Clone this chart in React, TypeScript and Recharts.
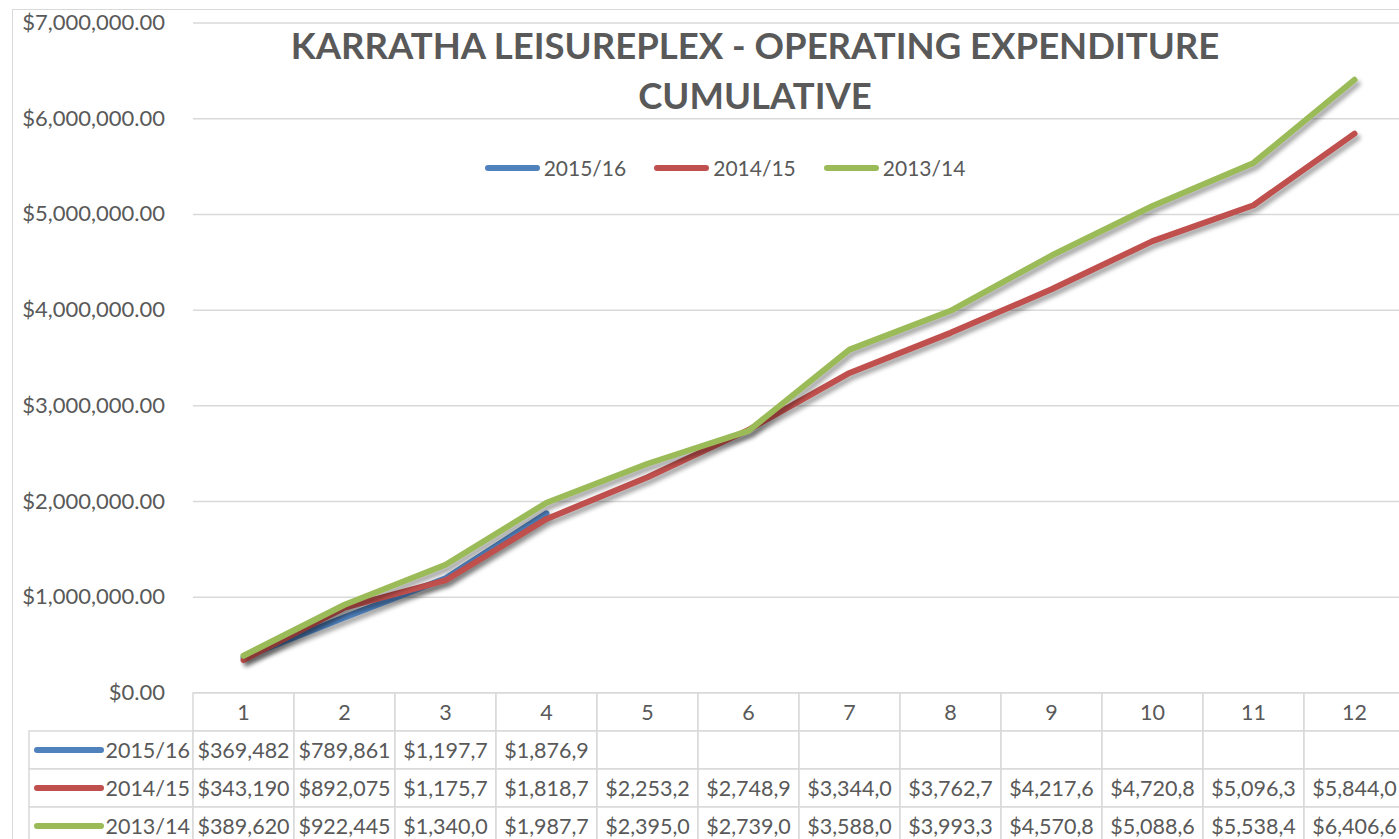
import { LineChart, Line, XAxis, YAxis, CartesianGrid } from "recharts";

const months = ["1", "2", "3", "4", "5", "6", "7", "8", "9", "10", "11", "12"];
const fy1516 = [369482, 789861, 1197700, 1876900];
const fy1415 = [343190, 892075, 1175700, 1818700, 2253200, 2748900, 3344000, 3762700, 4217600, 4720800, 5096300, 5844000];
const fy1314 = [389620, 922445, 1340000, 1987700, 2395000, 2739000, 3588000, 3993300, 4570800, 5088600, 5538400, 6406600];
const yTicks = [0, 1000000, 2000000, 3000000, 4000000, 5000000, 6000000, 7000000];

const series = [
  { key: "fy1516", name: "2015/16", color: "#4f81bd", values: fy1516 },
  { key: "fy1415", name: "2014/15", color: "#c0504d", values: fy1415 },
  { key: "fy1314", name: "2013/14", color: "#9bbb59", values: fy1314 },
];

const data = months.map((m, i) => {
  const row: Record<string, any> = { month: m };
  series.forEach((s) => {
    row[s.key] = s.values[i] ?? null;
  });
  return row;
});

const FONT = "Lato, 'Open Sans', sans-serif";
const TEXT = "#595959";
const GRID = "#d9d9d9";
const W = 1420;
const H = 860;
const LEFT = 193;
const PLOT_W = 1212;
const CELL_W = PLOT_W / 12;
const ROW_H = 38;
const LEG_W = 164;

// data table cells show the value cut to 8 characters, like the source
const cut = (v: number) => ("$" + v.toLocaleString("en-US")).slice(0, 8);
const money = (v: number) =>
  "$" + v.toLocaleString("en-US", { minimumFractionDigits: 2, maximumFractionDigits: 2 });

function TableTick(props: any) {
  const { x, y, payload, index } = props;
  const left = x - CELL_W / 2;
  return (
    <g>
      {index === 0 &&
        series.map((s, r) => {
          const top = y + ROW_H * (r + 1);
          const lx = left - LEG_W;
          return (
            <g key={s.key}>
              <rect x={lx} y={top} width={LEG_W} height={ROW_H} fill="#fff" stroke={GRID} strokeWidth={1.5} />
              <line x1={lx + 8} x2={lx + 72} y1={top + 19} y2={top + 19} stroke={s.color} strokeWidth={6} strokeLinecap="round" />
              <text x={left - 3} y={top + 27} textAnchor="end" fontSize={21.5} fill={TEXT} fontFamily={FONT}>
                {s.name}
              </text>
            </g>
          );
        })}
      <rect x={left} y={y} width={CELL_W} height={ROW_H} fill="#fff" stroke={GRID} strokeWidth={1.5} />
      <text x={x} y={y + 27} textAnchor="middle" fontSize={21.5} fill={TEXT} fontFamily={FONT}>
        {payload.value}
      </text>
      {series.map((s, r) => {
        const v = s.values[index];
        const top = y + ROW_H * (r + 1);
        return (
          <g key={s.key}>
            <rect x={left} y={top} width={CELL_W} height={ROW_H} fill="#fff" stroke={GRID} strokeWidth={1.5} />
            {v !== undefined && (
              <text x={x} y={top + 27} textAnchor="middle" fontSize={21.5} fill={TEXT} fontFamily={FONT}>
                {cut(v)}
              </text>
            )}
          </g>
        );
      })}
    </g>
  );
}

function YTick(props: any) {
  const { y, payload } = props;
  return (
    <text x={165} y={y + 7} textAnchor="end" fontSize={22} fill={TEXT} fontFamily={FONT}>
      {money(payload.value)}
    </text>
  );
}

function TopLegend() {
  return (
    <div style={{ display: "flex", justifyContent: "center", gap: 28, fontFamily: FONT, fontSize: 21, color: TEXT }}>
      {series.map((s) => (
        <div key={s.key} style={{ display: "flex", alignItems: "center", gap: 4 }}>
          <span style={{ display: "inline-block", width: 55, height: 6, borderRadius: 3, background: s.color }} />
          <span>{s.name}</span>
        </div>
      ))}
    </div>
  );
}

export default function App() {
  return (
    <div style={{ position: "absolute", left: 0, top: 0, width: 1399, height: 839, overflow: "hidden", background: "#fff" }}>
      <style>{`.shadowLine path { filter: drop-shadow(3px 4px 2px rgba(0,0,0,0.35)); }`}</style>
      <div style={{ position: "absolute", left: 12, top: 9, width: 1400, height: 840, borderLeft: `1.5px solid ${GRID}`, borderTop: `1.5px solid ${GRID}` }} />
      <div style={{ position: "absolute", left: 0, top: 0 }}>
        <LineChart width={W} height={H} data={data} margin={{ top: 23, right: W - LEFT - PLOT_W, left: 0, bottom: 0 }}>
          <CartesianGrid vertical={false} stroke={GRID} strokeWidth={1.5} />
          <XAxis
            dataKey="month"
            height={H - 23 - 670}
            padding={{ left: CELL_W / 2, right: CELL_W / 2 }}
            tick={<TableTick />}
            tickLine={false}
            tickSize={0}
            tickMargin={0}
            axisLine={{ stroke: GRID, strokeWidth: 1.5 }}
            interval={0}
          />
          <YAxis
            width={LEFT}
            domain={[0, 7000000]}
            ticks={yTicks}
            tick={<YTick />}
            axisLine={false}
            tickLine={false}
          />
          {series.map((s) => (
            <Line
              key={s.key}
              className="shadowLine"
              type="linear"
              dataKey={s.key}
              name={s.name}
              stroke={s.color}
              strokeWidth={6}
              strokeLinecap="round"
              strokeLinejoin="round"
              dot={false}
              activeDot={false}
              connectNulls={false}
              isAnimationActive={false}
            />
          ))}
        </LineChart>
      </div>
      <div
        style={{
          position: "absolute",
          left: 180,
          width: 1150,
          top: 20,
          textAlign: "center",
          fontFamily: FONT,
          fontWeight: 700,
          fontSize: 36.5,
          lineHeight: "50px",
          color: TEXT,
        }}
      >
        KARRATHA LEISUREPLEX - OPERATING EXPENDITURE
        <br />
        CUMULATIVE
      </div>
      <div style={{ position: "absolute", left: 455, width: 540, top: 155 }}>
        <TopLegend />
      </div>
    </div>
  );
}
